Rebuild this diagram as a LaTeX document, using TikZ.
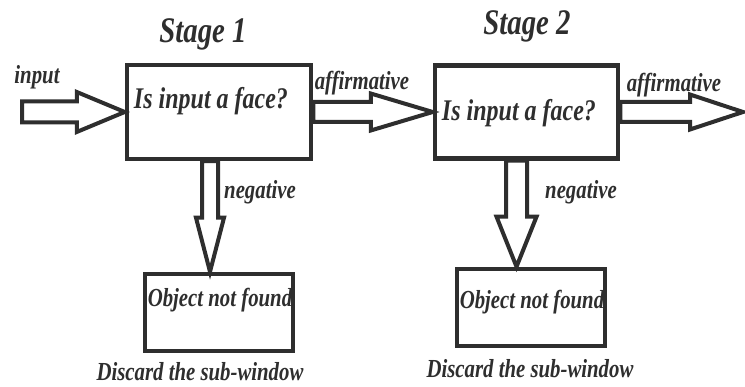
\documentclass[tikz,border=0pt]{standalone}
\usepackage{fontspec}
\setmainfont{Liberation Serif}
\newfontfamily\lbl[FakeStretch=0.8]{Liberation Serif}
\usetikzlibrary{calc}
\colorlet{ink}{black!82}
\tikzset{
  box/.style={draw=ink, line width=4.5pt, rectangle, inner sep=0pt},
  blk/.style={draw=ink, line width=4pt, fill=white, line join=miter},
  txt/.style={text=ink, font=\lbl\bfseries\itshape\fontsize{26}{28}\selectfont, inner sep=0pt},
  big/.style={txt, font=\lbl\bfseries\itshape\fontsize{30}{32}\selectfont},
  stage/.style={txt, font=\lbl\bfseries\itshape\fontsize{36}{38}\selectfont},
}
\newcommand\HArrow[5]{%
  \draw[blk] ($(#1)+(0,-#3)$) -- ($(#2)+(-#5,-#3)$) -- ($(#2)+(-#5,-#4)$) -- (#2)
    -- ($(#2)+(-#5,#4)$) -- ($(#2)+(-#5,#3)$) -- ($(#1)+(0,#3)$) -- cycle;}
\newcommand\VArrow[5]{%
  \draw[blk] ($(#1)+(-#3,0)$) -- ($(#2)+(-#3,-#5)$) -- ($(#2)+(-#4,-#5)$) -- (#2)
    -- ($(#2)+(#4,-#5)$) -- ($(#2)+(#3,-#5)$) -- ($(#1)+(#3,0)$) -- cycle;}
\begin{document}
\begin{tikzpicture}[x=1pt,y=-1pt]
\useasboundingbox (0,0) rectangle (745,387);
% boxes
\node[box, minimum width=184pt, minimum height=94pt] (s1) at (219,112) {};
\node[box, minimum width=183pt, minimum height=93pt] (s2) at (526.5,112) {};
\node[box, minimum width=148pt, minimum height=77pt] (o1) at (219,312.5) {};
\node[box, minimum width=148pt, minimum height=77pt] (o2) at (531,307.5) {};
% texts
\node[big] (s1t) at (211,101) {Is input a face?};
\node[big] (s2t) at (519,113) {Is input a face?};
\node[txt] (o1t) at (220,300) {Object not found};
\node[txt] (o2t) at (532,302) {Object not found};
\node[stage] (st1) at (203,34) {Stage 1};
\node[stage] (st2) at (527,26) {Stage 2};
\node[txt] (linp) at (37,77) {input};
\node[txt] (laf1) at (362,83) {affirmative};
\node[txt] (laf2) at (674,85) {affirmative};
\node[txt] (lng1) at (260,192) {negative};
\node[txt] (lng2) at (581,192) {negative};
\node[txt] (ld1) at (200,372) {Discard the sub-window};
\node[txt] (ld2) at (530,369) {Discard the sub-window};
% connector ends
\coordinate (in0) at (22,112);
\coordinate (out2) at (743,112);
\coordinate (f1) at ($(s1.south)+(-9,0)$);
\coordinate (t1) at (f1 |- o1.north);
\coordinate (f2) at ($(s2.south)+(-10,0)$);
\coordinate (t2) at (f2 |- o2.north);
% block arrows
\HArrow{in0}{s1.west}{10.5}{20}{48}
\HArrow{s1.east}{s2.west}{10}{18.5}{62}
\HArrow{s2.east}{out2}{10}{17.5}{53}
\VArrow{f1}{t1}{8}{14}{54}
\VArrow{f2}{t2}{10.5}{20}{50}
\end{tikzpicture}
\end{document}
